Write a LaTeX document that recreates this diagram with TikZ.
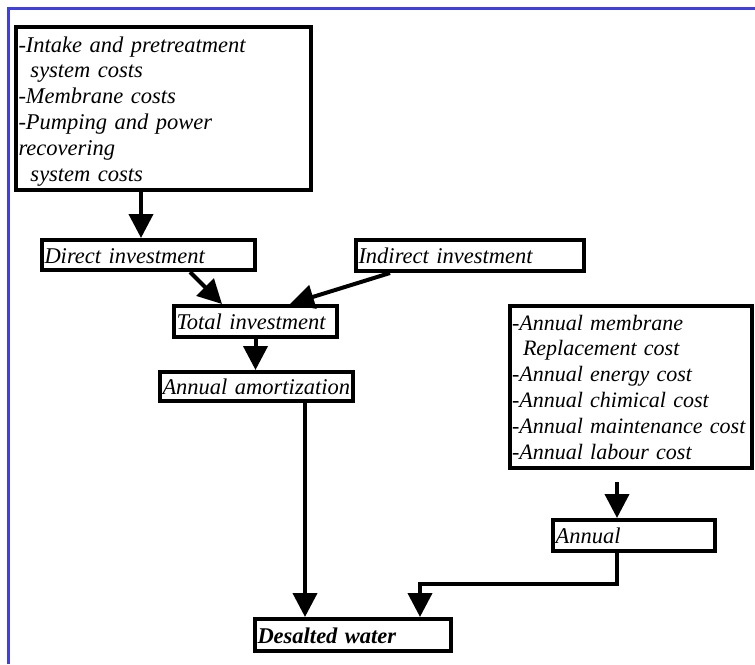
\documentclass[tikz,border=0pt]{standalone}
\usepackage{fontspec}
\setmainfont{Liberation Serif}
\usetikzlibrary{arrows.meta,calc}
\definecolor{frameblue}{RGB}{64,64,224}
\newcommand{\topstrut}[1]{\rule{0pt}{#1}}
\newcommand{\botstrut}[1]{\rule[-#1]{0pt}{#1}}
\begin{document}
\begin{tikzpicture}[x=1pt,y=-1pt,
  cbox/.style={draw, line width=4pt, inner xsep=2.5pt, inner ysep=0pt, anchor=north west, align=left,
    font=\fontsize{22.5}{25.8}\selectfont\itshape},
  one/.style={text height=16pt, text depth=0pt},
  arr/.style={line width=4pt, -{Triangle[width=24pt,length=24pt]}},
  frame/.style={line width=3pt, draw=frameblue}
]
\useasboundingbox (0,0) rectangle (755,664);
\draw[frame] (8.5,664) -- (8.5,8.5) -- (755,8.5);

\node[cbox, text width=290pt, minimum height=163pt] (box1) at (14,25)
  {\mbox{\topstrut{25pt}-Intake and pretreatment}\\
   \mbox{\hspace*{12pt}system costs}\\
   \mbox{-Membrane costs}\\
   \mbox{-Pumping and power}\\
   \mbox{recovering}\\
   \mbox{\hspace*{12pt}system costs\botstrut{9pt}}};
\node[cbox, one, text width=208pt, minimum height=30pt] (direct) at (40,238) {Direct investment};
\node[cbox, one, text width=223pt, minimum height=31pt] (indirect) at (354,238) {Indirect investment};
\node[cbox, one, text width=158pt, minimum height=31pt] (total) at (172,304) {Total investment};
\node[cbox, one, text width=188pt, minimum height=29pt] (amort) at (158,370) {Annual amortization};
\node[cbox, text width=237pt, minimum height=162pt, inner xsep=2pt, text width=238pt,
      font=\fontsize{22}{25.8}\selectfont\itshape] (costs) at (508,304)
  {\mbox{\topstrut{24pt}-Annual membrane}\\
   \mbox{\hspace*{11pt}Replacement cost}\\
   \mbox{-Annual energy cost}\\
   \mbox{-Annual chimical cost}\\
   \mbox{-Annual maintenance cost}\\
   \mbox{-Annual labour cost\botstrut{9pt}}};
\node[cbox, one, text width=157pt, minimum height=31pt] (annual) at (551,518) {Annual};
\node[cbox, one, text width=191pt, minimum height=32pt, font=\fontsize{22.5}{25.8}\selectfont\bfseries\itshape] (desalted) at (253,617) {Desalted water};

\coordinate (cstart) at ([xshift=-14pt,yshift=-12pt]costs.south);

\draw[arr] ([xshift=-22.5pt]box1.south) -- ([xshift=-22.5pt]box1.south |- direct.north);
\draw[arr] ([xshift=41.5pt]direct.south) -- ([xshift=-33.5pt]total.north);
\draw[arr] ([xshift=-80pt]indirect.south) -- ([xshift=34.5pt]total.north);
\draw[arr] (total.south) -- (total.south |- amort.north);
\draw[arr] ([xshift=48.5pt]amort.south) -- ([xshift=48.5pt]amort.south |- desalted.north);
\draw[arr] (cstart) -- (cstart |- annual.north);
\draw[arr] ([xshift=-17pt]annual.south) -- ++(0,31) -| ([xshift=67pt]desalted.north);
\end{tikzpicture}
\end{document}
